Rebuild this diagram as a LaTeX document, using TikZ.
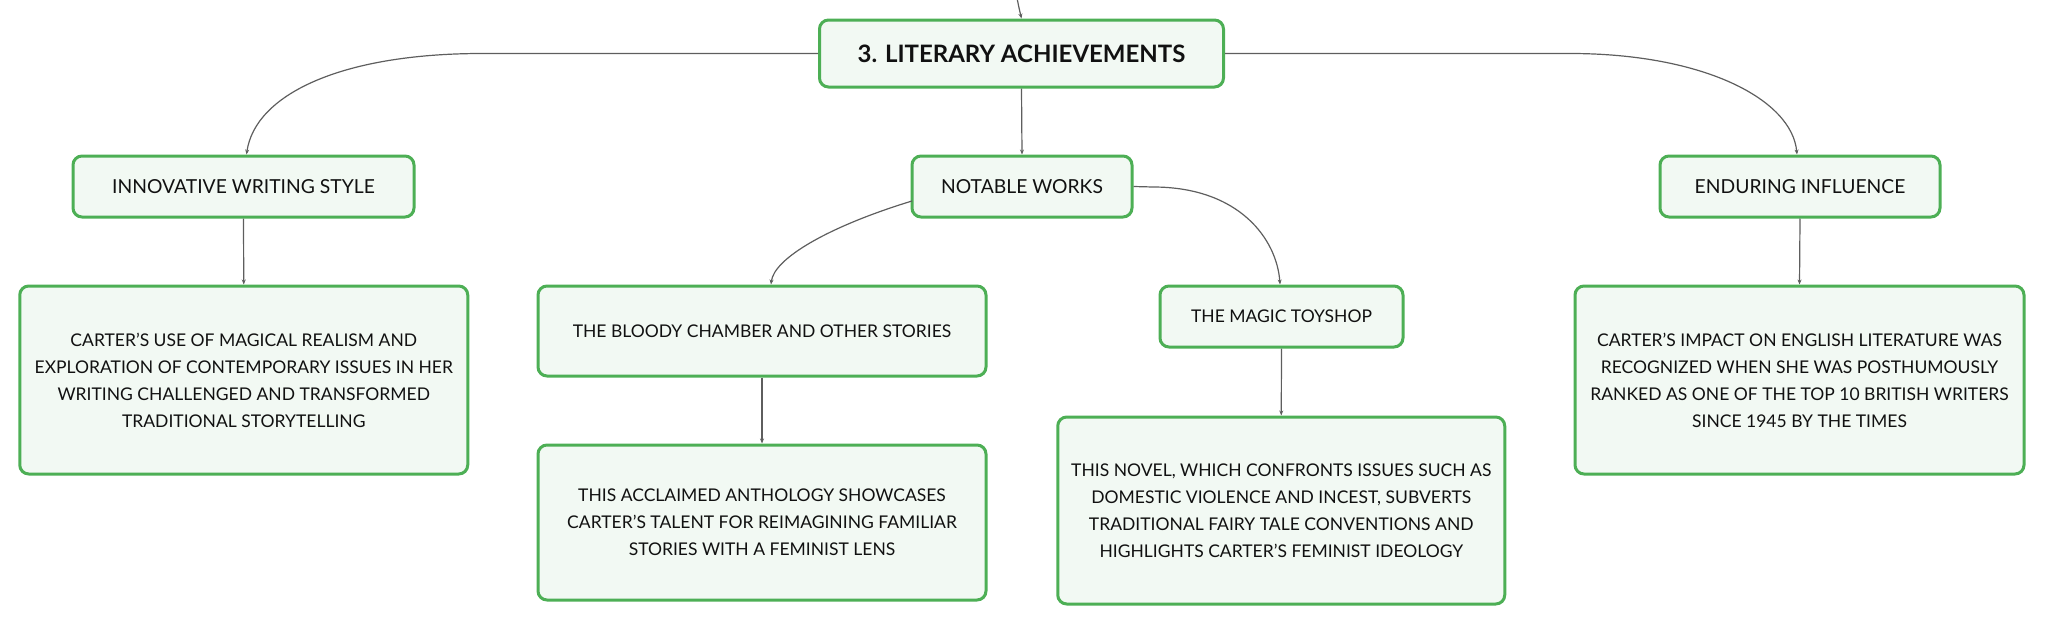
\documentclass[tikz,border=0pt]{standalone}
\usepackage{fontspec}
\setmainfont{Lato}
\usetikzlibrary{arrows.meta}
\definecolor{boxgreen}{HTML}{4DAF55}
\definecolor{boxfill}{HTML}{F2F9F3}
\definecolor{linkgray}{HTML}{5E5E5E}
\definecolor{txt}{HTML}{111111}
\begin{document}
\begin{tikzpicture}[x=1pt,y=-1pt,
  box/.style={draw=boxgreen, fill=boxfill, line width=3pt, rounded corners=9pt,
    inner sep=0pt, align=center, text=txt},
  titlebox/.style={box, font=\fontsize{24}{29}\selectfont\bfseries},
  headbox/.style={box, font=\fontsize{19.3}{24}\selectfont},
  bodybox/.style={box, font=\fontsize{17.5}{27}\selectfont},
  link/.style={draw=linkgray, line width=1.2pt, -{Stealth[length=5pt,width=4pt]}}
]
\useasboundingbox (0,0) rectangle (2046,624);

\node[titlebox, minimum width=404pt, minimum height=67pt] (main) at (1021.5,53.5) {3. LITERARY ACHIEVEMENTS};

\node[headbox, minimum width=341pt, minimum height=61pt] (innov) at (243.5,186.5) {INNOVATIVE WRITING STYLE};
\node[headbox, minimum width=220pt, minimum height=61pt] (notable) at (1022,186.5) {NOTABLE WORKS};
\node[headbox, minimum width=280pt, minimum height=61pt] (endur) at (1800,186.5) {ENDURING INFLUENCE};

\node[bodybox, minimum width=448pt, minimum height=188pt] (innovT) at (243.75,380) {CARTER'S USE OF MAGICAL REALISM AND\\EXPLORATION OF CONTEMPORARY ISSUES IN HER\\WRITING CHALLENGED AND TRANSFORMED\\TRADITIONAL STORYTELLING};

\node[bodybox, minimum width=448pt, minimum height=90pt] (bloody) at (762,331) {THE BLOODY CHAMBER AND OTHER STORIES};
\node[bodybox, minimum width=448pt, minimum height=155pt] (antho) at (762,522.5) {THIS ACCLAIMED ANTHOLOGY SHOWCASES\\CARTER'S TALENT FOR REIMAGINING FAMILIAR\\STORIES WITH A FEMINIST LENS};

\node[bodybox, minimum width=243pt, minimum height=61pt] (toy) at (1281.5,316.5) {THE MAGIC TOYSHOP};
\node[bodybox, minimum width=447pt, minimum height=187pt] (toyT) at (1281.25,510.5) {THIS NOVEL, WHICH CONFRONTS ISSUES SUCH AS\\DOMESTIC VIOLENCE AND INCEST, SUBVERTS\\TRADITIONAL FAIRY TALE CONVENTIONS AND\\HIGHLIGHTS CARTER'S FEMINIST IDEOLOGY};

\node[bodybox, minimum width=449pt, minimum height=188pt] (endurT) at (1799.5,380) {CARTER'S IMPACT ON ENGLISH LITERATURE WAS\\RECOGNIZED WHEN SHE WAS POSTHUMOUSLY\\RANKED AS ONE OF THE TOP 10 BRITISH WRITERS\\SINCE 1945 BY THE TIMES};

% connectors
\coordinate (top) at (1017,-2);
\draw[link] (top) .. controls (1019,8) .. (main.north);

\coordinate (mL) at (482,53.5);
\coordinate (mR) at (1570,53.5);
\draw[link] (main.west) -- (mL) .. controls (340,53.5) and (255,95) .. ([xshift=3pt]innov.north);
\draw[link] (main.east) -- (mR) .. controls (1705,53.5) and (1792,100) .. ([xshift=-3pt]endur.north);
\draw[link] (main.south) -- (notable.north);

\coordinate (nW) at (912,201);
\coordinate (nE) at (1153,187);
\draw[link] (nW) .. controls (830,226) and (774,258) .. ([xshift=9pt]bloody.north);
\draw[link] (notable.east) -- (nE) .. controls (1240,187) and (1277,240) .. ([xshift=-1.5pt]toy.north);

\draw[link] (innov.south) -- (innovT.north);
\draw[link] (bloody.south) -- (antho.north);
\draw[link] (toy.south) -- (toyT.north);
\draw[link] (endur.south) -- (endurT.north);
\end{tikzpicture}
\end{document}
